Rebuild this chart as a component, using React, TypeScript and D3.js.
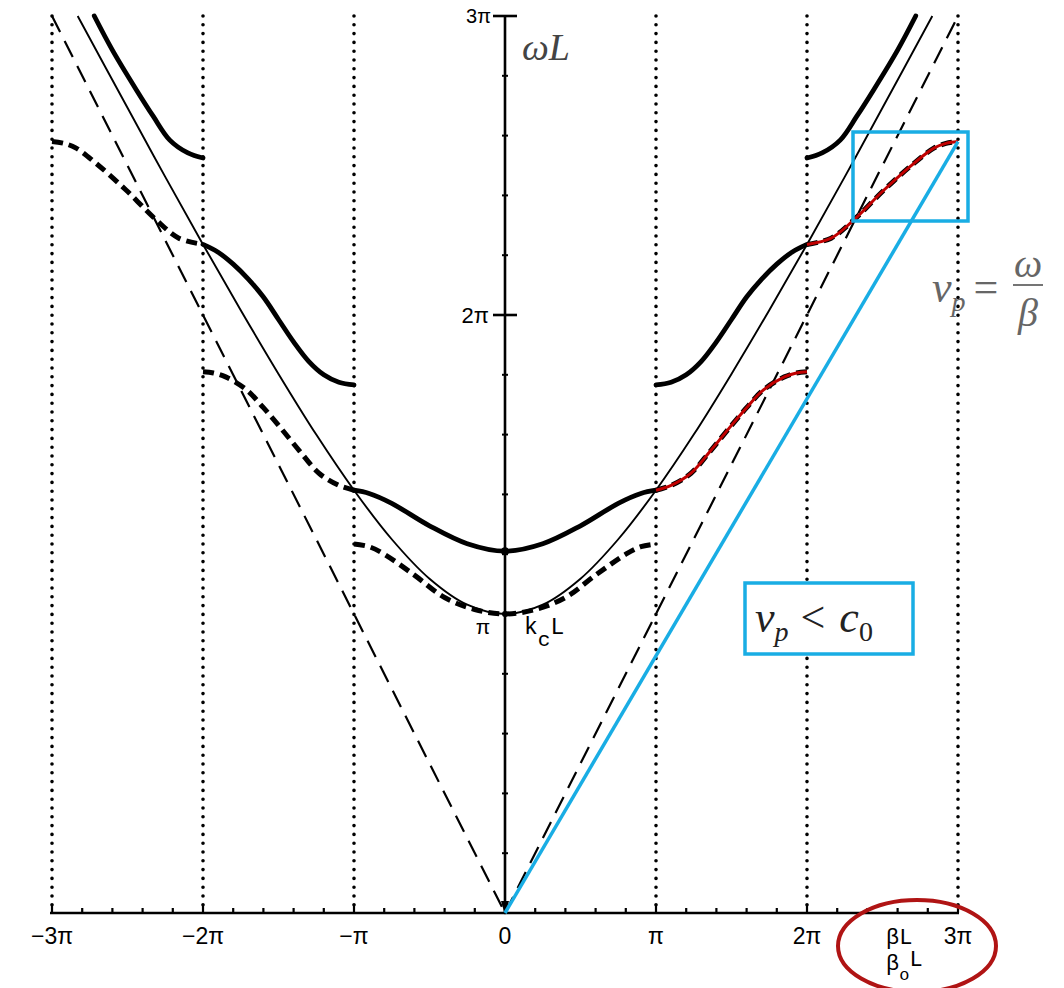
import * as d3 from 'd3';

// all values in units of pi: [beta*L, omega*L]
const PI_TICKS = [-3, -2, -1, 0, 1, 2, 3];
const X_TICK_LABELS = ['\u22123\u03c0', '\u22122\u03c0', '\u2212\u03c0', '0', '\u03c0', '2\u03c0', '3\u03c0'];
const DOTTED_AT = [-3, -2, -1, 1, 2, 3];

// light line omega = c0 * beta
const LIGHT_LINE = [[0, 0], [3, 3]];
// thin hyperbola (waveguide without loading)
const HYPERBOLA = [[0, 1], [0.25, 1.031], [0.5, 1.118], [0.75, 1.25], [1, 1.414], [1.25, 1.6], [1.5, 1.803],
  [1.75, 2.016], [2, 2.236], [2.25, 2.462], [2.5, 2.693], [2.83, 3]];
// thick solid pass bands
const SOLID_BAND_1 = [[0, 1.21], [0.25, 1.235], [0.5, 1.295], [0.75, 1.37], [0.9, 1.403], [1, 1.414]];
const SOLID_BAND_2 = [[1, 1.766], [1.1, 1.775], [1.2, 1.8], [1.3, 1.845], [1.4, 1.91], [1.5, 1.985], [1.6, 2.06],
  [1.7, 2.12], [1.8, 2.17], [1.9, 2.21], [2, 2.236]];
const SOLID_BAND_3 = [[2, 2.525], [2.1, 2.542], [2.22, 2.585], [2.33, 2.665], [2.44, 2.752], [2.6, 2.886], [2.72, 3]];
// thick dashed pass bands
const DASHED_BAND_1 = [[0, 1], [0.2, 1.015], [0.4, 1.055], [0.6, 1.13], [0.8, 1.2], [0.9, 1.225], [1, 1.234]];
const DASHED_BAND_2 = [[1, 1.414], [1.1, 1.43], [1.23, 1.47], [1.36, 1.545], [1.49, 1.625], [1.6, 1.69],
  [1.71, 1.749], [1.85, 1.793], [1.93, 1.806], [2, 1.81]];
const DASHED_BAND_3 = [[2, 2.236], [2.16, 2.257], [2.31, 2.318], [2.51, 2.418], [2.71, 2.508], [2.84, 2.558],
  [2.92, 2.574], [3, 2.58]];

const W = 1064, H = 988;
const BLUE = '#19ade4';
const RED = '#c00000';

const x = d3.scaleLinear().domain([-3, 3]).range([52, 958]);
const y = d3.scaleLinear().domain([0, 3]).range([913, 16]);

const mirror = (pts: number[][]) => pts.map(([a, b]) => [-a, b]).reverse();
const sym = (pts: number[][]) => [...mirror(pts).slice(0, -1), ...pts];

const line = d3.line<number[]>().x(d => x(d[0])).y(d => y(d[1])).curve(d3.curveCatmullRom.alpha(0.5));
const straight = d3.line<number[]>().x(d => x(d[0])).y(d => y(d[1]));

export default function App() {
  const minorTicks = d3.range(-15, 16).map(i => i / 5);
  const yMinor = d3.range(1, 15).map(i => i / 5);
  const blueEnd = DASHED_BAND_3[DASHED_BAND_3.length - 1];

  const thick = { fill: 'none', stroke: '#000', strokeWidth: 4.8, strokeLinecap: 'round' as const };
  const dashed = { fill: 'none', stroke: '#000', strokeWidth: 5, strokeDasharray: '11 6' };
  const sans = 'Liberation Sans, Arial, sans-serif';
  const mono = 'Liberation Mono, monospace';

  return (
    <svg width={W} height={H} style={{ position: 'absolute', left: 0, top: 0, background: '#fff' }}>
      {/* dotted zone boundaries */}
      {DOTTED_AT.map(k => (
        <line key={k} x1={x(k)} x2={x(k)} y1={y(3)} y2={y(0)} stroke="#000" strokeWidth={3.6}
          strokeLinecap="round" strokeDasharray="0 8.8" />
      ))}

      {/* light lines */}
      <path d={straight(LIGHT_LINE)!} fill="none" stroke="#000" strokeWidth={2.2} strokeDasharray="18 10" />
      <path d={straight(mirror(LIGHT_LINE))!} fill="none" stroke="#000" strokeWidth={2.2} strokeDasharray="18 10" />

      {/* hyperbola */}
      <path d={line(sym(HYPERBOLA))!} fill="none" stroke="#000" strokeWidth={1.9} />

      {/* solid bands */}
      <path d={line(sym(SOLID_BAND_1))!} {...thick} />
      <path d={line(SOLID_BAND_2)!} {...thick} />
      <path d={line(mirror(SOLID_BAND_2))!} {...thick} />
      <path d={line(SOLID_BAND_3)!} {...thick} />
      <path d={line(mirror(SOLID_BAND_3))!} {...thick} />

      {/* dashed bands */}
      <path d={line(sym(DASHED_BAND_1))!} {...dashed} />
      <path d={line(DASHED_BAND_2)!} {...dashed} />
      <path d={line(mirror(DASHED_BAND_2))!} {...dashed} />
      <path d={line(DASHED_BAND_3)!} {...dashed} />
      <path d={line(mirror(DASHED_BAND_3))!} {...dashed} />
      {/* red highlight on the right */}
      <path d={line(DASHED_BAND_2)!} fill="none" stroke={RED} strokeWidth={3} />
      <path d={line(DASHED_BAND_3)!} fill="none" stroke={RED} strokeWidth={3} />

      {/* x axis */}
      <line x1={x(-3) - 2} x2={x(3) + 1} y1={y(0)} y2={y(0)} stroke="#000" strokeWidth={2.6} />
      {minorTicks.map((t, i) => {
        const major = Math.abs(t - Math.round(t)) < 1e-6;
        return <line key={i} x1={x(t)} x2={x(t)} y1={y(0)} y2={y(0) - (major ? 9 : 5)}
          stroke="#000" strokeWidth={2.2} />;
      })}
      {PI_TICKS.map((t, i) => (
        <text key={t} x={x(t)} y={944} textAnchor="middle" fontFamily={sans} fontSize={23}>{X_TICK_LABELS[i]}</text>
      ))}

      {/* y axis */}
      <line x1={x(0)} x2={x(0)} y1={y(3)} y2={y(0)} stroke="#000" strokeWidth={2.6} />
      {yMinor.map((t, i) => (
        <line key={i} x1={x(0) - 3} x2={x(0) + 3} y1={y(t)} y2={y(t)} stroke="#000" strokeWidth={2} />
      ))}
      {[2, 3].map(t => (
        <line key={t} x1={x(0) - 12} x2={x(0) + 12} y1={y(t)} y2={y(t)} stroke="#000" strokeWidth={2.6} />
      ))}
      <path d={`M${x(0)},${y(0) + 2} l-4,-14 l8,0 z`} fill="#000" />
      <circle cx={x(0)} cy={y(SOLID_BAND_1[0][1])} r={4} fill="#000" />
      <circle cx={x(0)} cy={y(1)} r={3} fill="#000" />
      <text x={x(0) - 14} y={y(3) + 7} textAnchor="end" fontFamily={sans} fontSize={20}>3π</text>
      <text x={x(0) - 16} y={y(2) + 8} textAnchor="end" fontFamily={sans} fontSize={22}>2π</text>
      <text x={x(0) - 22} y={y(1) + 20} textAnchor="middle" fontFamily={sans} fontSize={21}>π</text>
      <text x={x(0) + 19} y={y(1) + 20} fontFamily={mono} fontSize={23}>
        k<tspan dy={12} fontSize={21}>c</tspan><tspan dy={-12}>L</tspan>
      </text>
      <text x={522} y={60} fontFamily="Liberation Serif, serif" fontStyle="italic" fontSize={38} fill="#444">ωL</text>

      {/* phase velocity line and boxes */}
      <line x1={x(0)} y1={y(0)} x2={x(blueEnd[0])} y2={y(blueEnd[1])} stroke={BLUE} strokeWidth={3.5} />
      <rect x={853} y={132} width={115} height={89} fill="none" stroke={BLUE} strokeWidth={3.5} />
      <rect x={745} y={583} width={168} height={71} fill="#fff" stroke={BLUE} strokeWidth={3.5} />
      <text x={755} y={632} fontFamily="Liberation Serif, serif" fontSize={44} fill="#222">
        <tspan fontStyle="italic">v</tspan><tspan fontStyle="italic" fontSize={28} dy={9}>p</tspan>
        <tspan dy={-9} dx={12}>&lt;</tspan><tspan dx={14} fontStyle="italic">c</tspan>
        <tspan fontSize={28} dy={9}>0</tspan>
      </text>

      <g fontFamily="Liberation Serif, serif" fill="#666">
        <text x={932} y={302} fontSize={44}>
          <tspan fontStyle="italic">v</tspan><tspan fontStyle="italic" fontSize={28} dy={9}>p</tspan>
          <tspan dy={-9} dx={8}>=</tspan>
        </text>
        <text x={1028} y={277} fontSize={40} fontStyle="italic" textAnchor="middle">ω</text>
        <line x1={1013} x2={1043} y1={285} y2={285} stroke="#666" strokeWidth={1.8} />
        <text x={1028} y={326} fontSize={40} fontStyle="italic" textAnchor="middle">β</text>
      </g>

      {/* circled beta labels */}
      <text x={886} y={944} fontFamily={mono} fontSize={22}>βL</text>
      <text x={886} y={970} fontFamily={mono} fontSize={22}>
        β<tspan dy={10} fontSize={17}>o</tspan><tspan dy={-14}>L</tspan>
      </text>
      <ellipse cx={917} cy={946} rx={79} ry={46} fill="none" stroke="#b01414" strokeWidth={4} />
    </svg>
  );
}
